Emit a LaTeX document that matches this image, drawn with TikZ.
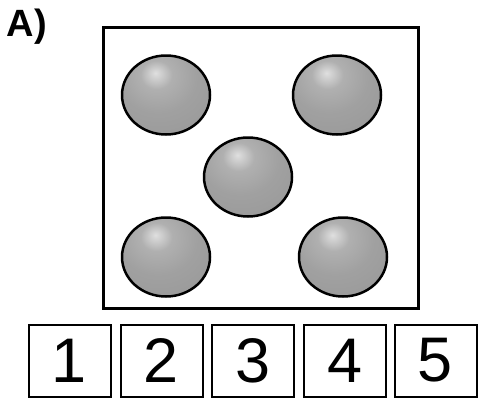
\documentclass[tikz,border=0pt]{standalone}
\usepackage{fontspec}
\setmainfont{Liberation Sans}
\usetikzlibrary{shapes.geometric}
\tikzset{every picture/.style={line width=0.75pt}}
\pgfdeclareradialshading{pebble}{\pgfpoint{-6bp}{14bp}}{%
    color(0bp)=(gray!25); color(9bp)=(gray!62); color(22bp)=(gray!74);
    color(40bp)=(gray!80); color(60bp)=(gray!84); color(100bp)=(gray!84)}
\tikzset{
    ball/.style={ellipse, draw, line width=2.5pt, inner sep=0pt,
        minimum width=88pt, minimum height=79pt,
        shading=pebble},
    numbox/.style={draw, line width=2pt, inner sep=0pt,
        minimum width=82pt, minimum height=72pt,
        font=\fontsize{63}{63}\selectfont}
}

\begin{document}
\begin{tikzpicture}[x=1pt, y=-1pt]
    % 页面范围
    \useasboundingbox (0,0) rectangle (478,399);
    
    % 标签
    \node[font=\fontsize{38}{38}\selectfont\bfseries] (label) at (27,27) {A)};
    
    % 外框
    \node[draw, line width=3pt, minimum width=315pt, minimum height=281pt] (frame) at (261,167.5) {};
    
    % 五个球
    \node[ball] (ballA) at (166,95) {};
    \node[ball] (ballB) at (337,95) {};
    \node[ball] (ballC) at (248,177) {};
    \node[ball] (ballD) at (166,257) {};
    \node[ball] (ballE) at (343,257) {};
    
    % 编号方框
    \foreach \i/\x in {1/69.5, 2/161.5, 3/253, 4/345, 5/435.5}
        \node[numbox] (box\i) at (\x,360.5) {\i};
\end{tikzpicture}
\end{document}
